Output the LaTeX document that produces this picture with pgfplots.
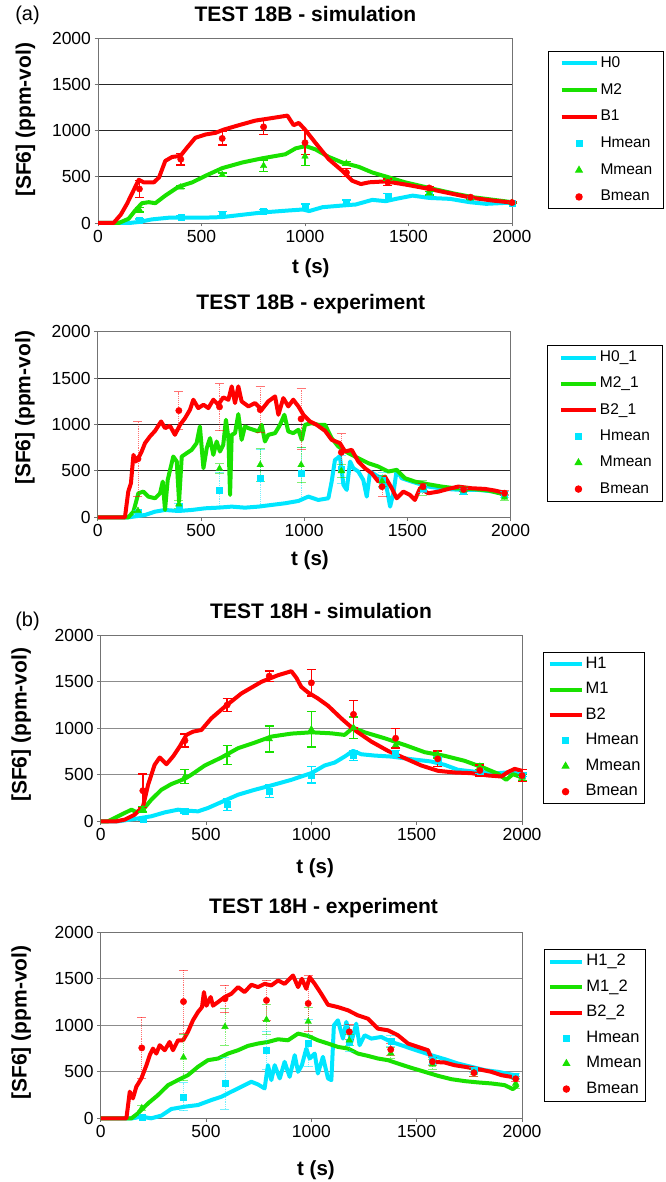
\documentclass[border=0pt]{standalone}
\usepackage{pgfplots}
\pgfplotsset{compat=1.18}
\usepackage{fontspec}
\setmainfont{Liberation Sans}
\definecolor{cH}{RGB}{0,230,255}
\definecolor{cM}{RGB}{25,225,0}
\definecolor{cB}{RGB}{255,0,0}
\pgfplotsset{
  base/.style={
    scale only axis, anchor=south west,
    xmin=0,xmax=2000,ymin=0,ymax=2000,
    xtick={0,500,1000,1500,2000}, ytick={0,500,1000,1500,2000},
    /pgf/number format/assume math mode=true,
    /pgf/number format/1000 sep={},
    ticklabel style={font=\fontsize{17.5}{20}\selectfont},
    tick align=outside, major tick length=3.5pt,
    xtick pos=bottom, ytick pos=left,
    ymajorgrids, clip=false,
    axis line style={black!55, line width=0.9pt},
    tick style={black!55, line width=0.9pt},
    title style={font=\fontsize{21}{24}\selectfont\bfseries, anchor=center},
    xlabel style={font=\fontsize{20.5}{24}\selectfont\bfseries, anchor=center},
    ylabel style={font=\fontsize{21}{24}\selectfont\bfseries, anchor=center},
    legend cell align=left,
    legend image code/.code={\draw[mark repeat=2,mark phase=2,##1] plot coordinates {(0pt,0pt) (17.5pt,0pt) (35pt,0pt)};},
  },
  ln/.style={line width=4pt, line join=round},
  mH/.style={only marks, cH, mark=square*, mark size=3pt},
  mM/.style={only marks, cM, mark=triangle*, mark size=3.8pt},
  mB/.style={only marks, cB, mark=*, mark size=3.2pt},
  simbar/.style={error bars/.cd, y dir=both, y explicit,
    error bar style={line width=1.4pt, solid},
    error mark options={line width=1.4pt, mark size=4.5pt, rotate=90}},
  expbar/.style={error bars/.cd, y dir=both, y explicit,
    error bar style={line width=0.9pt, densely dotted, opacity=0.55},
    error mark options={line width=0.9pt, mark size=4.5pt, rotate=90, opacity=0.55}},
}
\begin{document}
\begin{tikzpicture}
\useasboundingbox (0pt,0pt) rectangle (665pt,-1182pt);
\node[font=\fontsize{20}{24}\selectfont] at (27.5pt,-15pt) {(a)};
\node[font=\fontsize{20}{24}\selectfont] at (27.5pt,-621.7pt) {(b)};
% ---------------- Panel 1
\begin{axis}[base, at={(98pt,-223pt)}, width=414pt, height=185pt,
  grid style={black!85, line width=0.9pt},
  title={TEST 18B - simulation}, title style={at={(0.501,1.100)}},
  xlabel={t (s)}, xlabel style={at={(0.514,-0.243)}},
  ylabel={[SF6] (ppm-vol)}, ylabel style={at={(-0.175,0.557)}},
  legend style={at={(1.087,0.930)}, anchor=north west, draw=black, line width=1pt,
    font=\fontsize{15.5}{18}\selectfont, inner xsep=11pt, inner ysep=6pt,
    row sep=14.7pt, column sep=2pt,
    nodes={inner sep=0pt, text height=10pt, text depth=2pt}},
]
\addplot[cH, ln] coordinates {(0,0)(150,0)(197,11)(260,39)(340,57)(405,57)(505,57)(600,64)(697,89)(795,114)(925,136)(990,146)(1020,129)(1085,171)(1180,189)(1245,200)(1325,250)(1390,236)(1440,261)(1520,296)(1600,271)(1700,261)(1795,225)(1875,207)(2000,221)};
\addlegendentry{H0}
\addplot[cM, ln] coordinates {(0,0)(100,0)(148,46)(180,136)(212,214)(245,225)(277,214)(325,296)(390,393)(455,439)(520,511)(600,593)(697,654)(795,700)(905,743)(955,807)(1003,832)(1050,796)(1115,714)(1180,654)(1260,607)(1325,546)(1405,493)(1485,439)(1600,379)(1715,321)(1810,279)(2000,225)};
\addlegendentry{M2}
\addplot[cB, ln] coordinates {(0,0)(75,0)(110,90)(140,207)(197,468)(220,440)(270,440)(295,493)(325,671)(358,714)(398,725)(430,814)(470,921)(520,957)(568,975)(608,1010)(680,1057)(760,1107)(845,1136)(915,1161)(945,1057)(970,1082)(1000,1010)(1050,868)(1115,689)(1180,564)(1228,457)(1270,421)(1310,440)(1390,450)(1490,414)(1600,368)(1715,314)(1810,271)(1905,243)(2000,221)};
\addlegendentry{B1}
\addplot[mH, simbar] coordinates {(200,29)+-(0,15)(400,64)+-(0,10)(600,100)+-(0,25)(800,129)+-(0,15)(1000,171)+-(0,35)(1200,225)+-(0,25)(1400,279)+-(0,40)(1600,296)+-(0,15)(1800,261)+-(0,10)(2000,218)+-(0,10)};
\addlegendentry{Hmean}
\addplot[mM, simbar] coordinates {(200,143)+-(0,25)(400,386)+-(0,15)(600,521)+-(0,20)(800,618)+-(0,62)(1000,720)+-(0,100)(1200,643)+-(0,20)(1400,475)+-(0,15)(1600,321)+-(0,20)(1800,268)+-(0,10)(2000,218)+-(0,10)};
\addlegendentry{Mmean}
\addplot[mB, simbar] coordinates {(200,368)+-(0,90)(400,689)+-(0,62)(600,914)+-(0,72)(800,1039)+-(0,84)(1000,868)+-(0,130)(1200,546)+-(0,45)(1400,439)+-(0,35)(1600,379)+-(0,15)(1800,279)+-(0,10)(2000,221)+-(0,10)};
\addlegendentry{Bmean}
\end{axis}
% ---------------- Panel 2
\begin{axis}[base, at={(97.7pt,-517.3pt)}, width=413pt, height=185.6pt,
  grid style={black!85, line width=0.9pt},
  title={TEST 18B - experiment}, title style={at={(0.516,1.118)}},
  xlabel={t (s)}, xlabel style={at={(0.514,-0.230)}},
  ylabel={[SF6] (ppm-vol)}, ylabel style={at={(-0.176,0.589)}},
  legend style={at={(1.089,0.928)}, anchor=north west, draw=black, line width=1pt,
    font=\fontsize{15.5}{18}\selectfont, inner xsep=11pt, inner ysep=6pt,
    row sep=14.3pt, column sep=2pt,
    nodes={inner sep=0pt, text height=10pt, text depth=2pt}},
]
\addplot[cH, ln] coordinates {(0,0)(150,0)(229,25)(278,61)(326,79)(391,68)(455,79)(520,97)(584,104)(649,115)(713,104)(778,115)(842,133)(907,151)(972,176)(1020,223)(1068,187)(1117,205)(1133,385)(1149,619)(1173,655)(1190,349)(1206,295)(1222,601)(1238,529)(1262,493)(1286,403)(1303,223)(1319,493)(1359,439)(1391,421)(1416,115)(1432,259)(1448,511)(1472,421)(1520,385)(1601,331)(1682,306)(1763,295)(1843,295)(1924,277)(1980,241)};
\addlegendentry{H0\_1}
\addplot[cM, ln] coordinates {(0,0)(148,0)(173,61)(197,259)(221,277)(245,223)(278,205)(302,259)(315,385)(326,79)(339,403)(366,655)(383,601)(394,169)(407,655)(431,691)(455,727)(479,799)(495,979)(512,529)(528,745)(544,853)(560,673)(576,817)(592,709)(608,781)(621,1051)(633,853)(641,241)(649,889)(665,907)(681,1112)(697,835)(713,979)(730,961)(754,943)(778,925)(794,997)(810,817)(826,889)(859,907)(883,997)(904,1105)(923,925)(947,907)(972,943)(988,835)(1004,997)(1036,1015)(1068,997)(1101,997)(1133,853)(1165,763)(1214,691)(1262,637)(1311,583)(1359,547)(1407,493)(1448,511)(1488,421)(1536,385)(1601,356)(1666,331)(1730,313)(1811,306)(1892,288)(1980,241)};
\addlegendentry{M2\_1}
\addplot[cB, ln] coordinates {(0,0)(132,0)(148,277)(161,367)(173,673)(184,601)(197,637)(213,709)(229,799)(253,871)(278,932)(307,1033)(326,961)(350,986)(374,889)(399,997)(423,1069)(447,1159)(463,1267)(487,1177)(512,1213)(536,1177)(560,1267)(584,1213)(608,1292)(633,1267)(649,1411)(665,1231)(681,1411)(697,1249)(730,1195)(762,1231)(794,1159)(826,1249)(859,1303)(875,1105)(899,1285)(923,1195)(947,1267)(972,1195)(996,1105)(1028,1033)(1060,997)(1101,932)(1133,835)(1173,799)(1198,709)(1230,727)(1262,601)(1294,529)(1327,475)(1359,385)(1391,439)(1424,313)(1448,205)(1480,277)(1512,241)(1536,187)(1561,313)(1601,259)(1650,277)(1698,306)(1746,331)(1811,313)(1875,306)(1924,288)(1980,259)};
\addlegendentry{B2\_1}
\addplot[mH, expbar] coordinates {(195,55)+-(0,15)(393,120)+-(0,30)(590,295)+-(0,190)(787,425)+-(0,310)(985,475)+-(0,280)(1180,520)+-(0,150)(1377,400)+-(0,80)(1575,310)+-(0,40)(1772,280)+-(0,30)(1970,245)+-(0,30)};
\addlegendentry{Hmean}
\addplot[mM, expbar] coordinates {(195,70)+-(0,20)(393,140)+-(0,40)(590,525)+-(0,50)(787,565)+-(0,180)(985,565)+-(0,190)(1180,500)+-(0,70)(1377,390)+-(0,60)(1575,320)+-(0,80)(1772,290)+-(0,45)(1970,215)+-(0,35)};
\addlegendentry{Mmean}
\addplot[mB, expbar] coordinates {(195,630)+-(0,400)(393,1150)+-(0,205)(590,1190)+-(0,250)(787,1160)+-(0,245)(985,1060)+-(0,325)(1180,700)+-(0,200)(1377,330)+-(0,100)(1575,330)+-(0,40)(1772,300)+-(0,25)(1970,260)+-(0,25)};
\addlegendentry{Bmean}
\end{axis}
% ---------------- Panel 3
\begin{axis}[base, at={(100.7pt,-821.3pt)}, width=421.3pt, height=186pt,
  grid style={black!45, line width=0.9pt},
  title={TEST 18H - simulation}, title style={at={(0.523,1.100)}},
  xlabel={t (s)}, xlabel style={at={(0.509,-0.251)}},
  ylabel={[SF6] (ppm-vol)}, ylabel style={at={(-0.189,0.518)}},
  legend style={at={(1.050,0.912)}, anchor=north west, draw=black, line width=1pt,
    font=\fontsize{16.5}{18}\selectfont, inner xsep=4pt, inner ysep=6pt,
    row sep=13.5pt, column sep=2pt,
    nodes={inner sep=0pt, text height=10pt, text depth=2pt}},
  legend image code/.code={\draw[mark repeat=2,mark phase=2,#1] plot coordinates {(0pt,0pt) (16pt,0pt) (32pt,0pt)};},
]
\addplot[cH, ln] coordinates {(0,0)(82,0)(161,25)(240,54)(304,96)(367,125)(414,114)(462,107)(509,143)(573,207)(652,286)(731,339)(810,386)(905,446)(1000,518)(1063,600)(1111,632)(1158,696)(1198,757)(1237,721)(1300,707)(1380,696)(1474,668)(1569,643)(1633,607)(1696,554)(1791,529)(1886,518)(1949,529)(2000,500)};
\addlegendentry{H1}
\addplot[cM, ln] coordinates {(0,0)(35,0)(82,54)(146,125)(169,100)(201,125)(240,232)(288,339)(335,400)(399,457)(430,500)(494,600)(573,686)(652,786)(731,846)(810,911)(905,943)(1000,957)(1095,946)(1158,929)(1198,1007)(1253,957)(1348,893)(1443,821)(1538,743)(1633,704)(1728,650)(1823,571)(1886,511)(1925,446)(1957,507)(2000,471)};
\addlegendentry{M1}
\addplot[cB, ln] coordinates {(0,0)(74,0)(114,18)(161,71)(201,161)(225,393)(256,607)(280,686)(312,614)(343,696)(375,804)(407,929)(438,964)(478,982)(525,1107)(589,1232)(668,1375)(763,1500)(842,1571)(905,1614)(929,1543)(952,1446)(984,1386)(1031,1321)(1079,1243)(1142,1107)(1205,982)(1285,857)(1364,757)(1443,679)(1522,600)(1601,543)(1680,525)(1759,518)(1838,493)(1902,482)(1933,529)(1965,564)(2000,543)};
\addlegendentry{B2}
\addplot[mH, simbar] coordinates {(200,18)+-(0,10)(400,114)+-(0,25)(600,179)+-(0,60)(800,329)+-(0,70)(1000,500)+-(0,90)(1200,707)+-(0,50)(1400,732)+-(0,30)(1600,660)+-(0,30)(1800,536)+-(0,20)(2000,500)+-(0,20)};
\addlegendentry{Hmean}
\addplot[mM, simbar] coordinates {(200,132)+-(0,30)(400,482)+-(0,75)(600,714)+-(0,104)(800,886)+-(0,140)(1000,989)+-(0,190)(1200,1007)+-(0,116)(1400,821)+-(0,40)(1600,720)+-(0,40)(1800,589)+-(0,30)(2000,471)+-(0,30)};
\addlegendentry{Mmean}
\addplot[mB, simbar] coordinates {(200,329)+-(0,180)(400,868)+-(0,70)(600,1250)+-(0,68)(800,1561)+-(0,57)(1000,1489)+-(0,143)(1200,1150)+-(0,146)(1400,893)+-(0,105)(1600,671)+-(0,84)(1800,546)+-(0,60)(2000,493)+-(0,66)};
\addlegendentry{Bmean}
\end{axis}
% ---------------- Panel 4
\begin{axis}[base, at={(100.7pt,-1118.3pt)}, width=421.3pt, height=186pt,
  grid style={black!45, line width=0.9pt},
  title={TEST 18H - experiment}, title style={at={(0.529,1.097)}},
  xlabel={t (s)}, xlabel style={at={(0.511,-0.278)}},
  ylabel={[SF6] (ppm-vol)}, ylabel style={at={(-0.189,0.515)}},
  legend style={at={(1.052,0.910)}, anchor=north west, draw=black, line width=1pt,
    font=\fontsize{16.5}{18}\selectfont, inner xsep=4pt, inner ysep=6pt,
    row sep=13.5pt, column sep=2pt,
    nodes={inner sep=0pt, text height=10pt, text depth=2pt}},
  legend image code/.code={\draw[mark repeat=2,mark phase=2,#1] plot coordinates {(0pt,0pt) (16pt,0pt) (32pt,0pt)};},
]
\addplot[cH, ln] coordinates {(0,0)(150,0)(193,18)(240,0)(288,29)(335,100)(399,125)(462,143)(525,196)(573,232)(620,286)(652,321)(683,357)(715,393)(747,364)(778,321)(794,571)(810,411)(826,571)(850,429)(873,607)(897,446)(921,679)(937,500)(955,571)(976,750)(992,643)(1016,696)(1031,482)(1055,661)(1079,429)(1095,411)(1107,1000)(1126,1054)(1150,857)(1166,1036)(1190,821)(1213,1018)(1229,786)(1253,893)(1285,857)(1332,875)(1380,821)(1427,786)(1474,750)(1522,714)(1569,679)(1633,636)(1696,589)(1759,554)(1823,518)(1886,500)(1949,471)(1981,457)};
\addlegendentry{H1\_2}
\addplot[cM, ln] coordinates {(0,0)(146,0)(177,54)(225,161)(272,250)(320,357)(367,411)(414,464)(462,554)(509,625)(557,643)(604,696)(652,732)(699,779)(747,804)(794,821)(842,850)(889,839)(937,911)(984,886)(1031,839)(1079,804)(1126,768)(1174,750)(1221,696)(1269,671)(1316,643)(1364,625)(1411,589)(1474,543)(1538,500)(1601,457)(1664,421)(1728,400)(1791,386)(1854,375)(1917,357)(1957,314)(1981,357)};
\addlegendentry{M1\_2}
\addplot[cB, ln] coordinates {(0,0)(122,0)(138,286)(153,214)(169,339)(193,429)(217,571)(233,679)(248,750)(264,696)(280,786)(304,732)(327,821)(343,732)(367,839)(391,839)(414,929)(438,1054)(462,1143)(481,1196)(490,1357)(502,1211)(522,1304)(533,1211)(557,1250)(589,1304)(620,1339)(652,1411)(683,1357)(715,1436)(747,1411)(778,1446)(810,1429)(842,1482)(873,1446)(913,1536)(937,1411)(955,1500)(976,1393)(992,1518)(1016,1446)(1047,1339)(1079,1221)(1126,1196)(1174,1161)(1221,1107)(1269,1071)(1316,964)(1364,946)(1411,893)(1459,804)(1506,768)(1554,732)(1577,607)(1633,600)(1680,571)(1728,554)(1791,529)(1854,500)(1902,464)(1949,446)(1981,429)};
\addlegendentry{B2\_2}
\addplot[mH, expbar] coordinates {(195,10)+-(0,10)(393,232)+-(0,150)(590,375)+-(0,280)(787,730)+-(0,200)(985,810)+-(0,250)(1180,820)+-(0,100)(1377,830)+-(0,60)(1575,620)+-(0,40)(1772,520)+-(0,30)(1970,450)+-(0,30)};
\addlegendentry{Hmean}
\addplot[mM, expbar] coordinates {(195,110)+-(0,30)(393,655)+-(0,250)(590,985)+-(0,200)(787,1060)+-(0,160)(985,1040)+-(0,150)(1180,840)+-(0,60)(1377,700)+-(0,60)(1575,580)+-(0,50)(1772,490)+-(0,40)(1970,375)+-(0,50)};
\addlegendentry{Mmean}
\addplot[mB, expbar] coordinates {(195,757)+-(0,330)(393,1255)+-(0,340)(590,1285)+-(0,145)(787,1268)+-(0,215)(985,1235)+-(0,300)(1180,930)+-(0,80)(1377,740)+-(0,60)(1575,610)+-(0,40)(1772,490)+-(0,40)(1970,425)+-(0,30)};
\addlegendentry{Bmean}
\end{axis}
\end{tikzpicture}
\end{document}
